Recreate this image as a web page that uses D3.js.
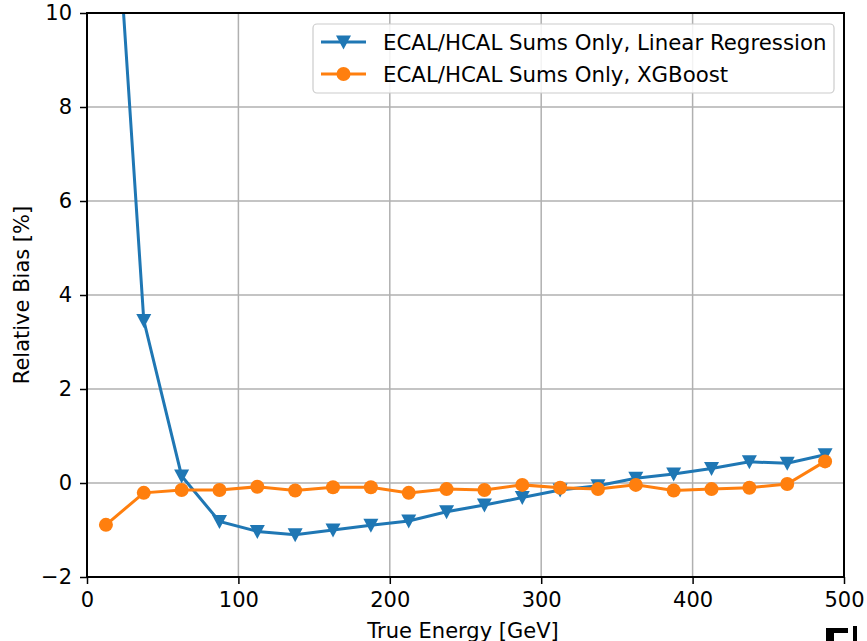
<!DOCTYPE html>
<html>
<head>
<meta charset="utf-8">
<script src="https://cdn.jsdelivr.net/npm/d3@7"></script>
<style>
  html, body { margin: 0; padding: 0; background: #fff; }
  svg { display: block; font-family: "DejaVu Sans", sans-serif; }
</style>
</head>
<body>
<svg id="chart" width="867" height="641"></svg>
<script>
// Energy bin centres [GeV]
const energies = [12.5, 37.5, 62.5, 87.5, 112.5, 137.5, 162.5, 187.5, 212.5, 237.5,
                  262.5, 287.5, 312.5, 337.5, 362.5, 387.5, 412.5, 437.5, 462.5, 487.5];
// Relative bias [%] per bin
const linearBias = [15.7, 3.46, 0.15, -0.82, -1.03, -1.1, -1.0, -0.9, -0.81, -0.61,
                    -0.47, -0.31, -0.15, -0.06, 0.1, 0.19, 0.31, 0.45, 0.42, 0.6];
const xgbBias = [-0.89, -0.21, -0.15, -0.15, -0.08, -0.16, -0.09, -0.09, -0.21, -0.13,
                 -0.15, -0.04, -0.1, -0.13, -0.04, -0.16, -0.13, -0.1, -0.02, 0.46];
const xTicks = [0, 100, 200, 300, 400, 500];
const yTicks = [-2, 0, 2, 4, 6, 8, 10];
const seriesNames = ["ECAL/HCAL Sums Only, Linear Regression", "ECAL/HCAL Sums Only, XGBoost"];

const svg = d3.select("#chart");
const m = { left: 87, right: 844, top: 13, bottom: 577 };

const x = d3.scaleLinear().domain([0, 500]).range([m.left, m.right]);
const y = d3.scaleLinear().domain([-2, 10]).range([m.bottom, m.top]);

const fmt = v => (v < 0 ? "\u2212" + Math.abs(v) : String(v));

// grid
const grid = svg.append("g").attr("stroke", "#b0b0b0").attr("stroke-width", 1.5);
xTicks.forEach(t => grid.append("line")
  .attr("x1", x(t)).attr("x2", x(t)).attr("y1", m.top).attr("y2", m.bottom));
yTicks.forEach(t => grid.append("line")
  .attr("x1", m.left).attr("x2", m.right).attr("y1", y(t)).attr("y2", y(t)));

// axes
const xAxis = svg.append("g")
  .attr("transform", `translate(0,${m.bottom})`)
  .call(d3.axisBottom(x).tickValues(xTicks).tickFormat(fmt).tickSize(7).tickPadding(8));
const yAxis = svg.append("g")
  .attr("transform", `translate(${m.left},0)`)
  .call(d3.axisLeft(y).tickValues(yTicks).tickFormat(fmt).tickSize(7).tickPadding(8));
[xAxis, yAxis].forEach(a => {
  a.select(".domain").remove();
  a.selectAll(".tick line").attr("stroke", "#000").attr("stroke-width", 1.5);
  a.selectAll(".tick text").attr("fill", "#000")
    .style("font-family", "DejaVu Sans").style("font-size", "21px");
});

// clip region for data
svg.append("defs").append("clipPath").attr("id", "plotclip")
  .append("rect").attr("x", m.left).attr("y", m.top)
  .attr("width", m.right - m.left).attr("height", m.bottom - m.top);

const plot = svg.append("g").attr("clip-path", "url(#plotclip)");
const line = d3.line().x(d => x(d[0])).y(d => y(d[1]));

const blue = "#1f77b4", orange = "#ff7f0e";
const triPath = "M-7.5,-6.5L7.5,-6.5L0,7.5Z";

const linData = energies.map((e, i) => [e, linearBias[i]]);
const xgbData = energies.map((e, i) => [e, xgbBias[i]]);

plot.append("path").datum(linData).attr("d", line)
  .attr("fill", "none").attr("stroke", blue).attr("stroke-width", 3);
plot.selectAll(".tri").data(linData).enter().append("path")
  .attr("d", triPath).attr("fill", blue)
  .attr("transform", d => `translate(${x(d[0])},${y(d[1])})`);

plot.append("path").datum(xgbData).attr("d", line)
  .attr("fill", "none").attr("stroke", orange).attr("stroke-width", 3);
plot.selectAll(".dot").data(xgbData).enter().append("circle")
  .attr("cx", d => x(d[0])).attr("cy", d => y(d[1])).attr("r", 7).attr("fill", orange);

// frame
svg.append("rect").attr("x", m.left).attr("y", m.top)
  .attr("width", m.right - m.left).attr("height", m.bottom - m.top)
  .attr("fill", "none").attr("stroke", "#000").attr("stroke-width", 2);

// axis labels
svg.append("text").attr("x", 463).attr("y", 638)
  .attr("text-anchor", "middle").style("font-size", "21px").text("True Energy [GeV]");
svg.append("text")
  .attr("transform", `translate(29,${(m.top + m.bottom) / 2}) rotate(-90)`)
  .attr("text-anchor", "middle").style("font-size", "21px").text("Relative Bias [%]");

// legend
const lg = svg.append("g");
lg.append("rect").attr("x", 313).attr("y", 24).attr("width", 521).attr("height", 69)
  .attr("rx", 4).attr("fill", "#fff").attr("fill-opacity", 0.85)
  .attr("stroke", "#cccccc").attr("stroke-width", 1.2);
const rows = [
  { name: seriesNames[0], color: blue, marker: "tri", yy: 42 },
  { name: seriesNames[1], color: orange, marker: "dot", yy: 74 }
];
rows.forEach(r => {
  lg.append("line").attr("x1", 321).attr("x2", 366).attr("y1", r.yy).attr("y2", r.yy)
    .attr("stroke", r.color).attr("stroke-width", 3);
  if (r.marker === "tri") {
    lg.append("path").attr("d", triPath).attr("fill", r.color)
      .attr("transform", `translate(343.5,${r.yy})`);
  } else {
    lg.append("circle").attr("cx", 343.5).attr("cy", r.yy).attr("r", 7).attr("fill", r.color);
  }
  lg.append("text").attr("x", 383).attr("y", r.yy + 8).style("font-size", "21.3px").text(r.name);
});

// partial dark emblem at the lower right corner
const em = svg.append("g").attr("fill", "#000");
em.append("rect").attr("x", 826).attr("y", 628).attr("width", 22).attr("height", 5);
em.append("rect").attr("x", 826).attr("y", 628).attr("width", 8).attr("height", 13);
em.append("rect").attr("x", 853).attr("y", 626).attr("width", 4).attr("height", 15);
</script>
</body>
</html>
